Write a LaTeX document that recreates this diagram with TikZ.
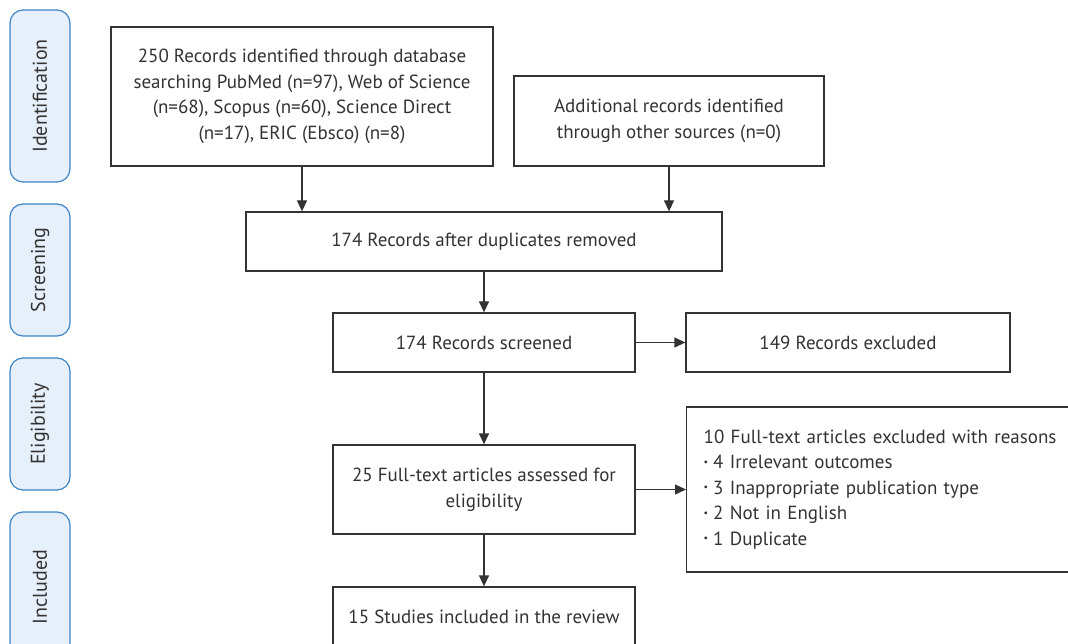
\documentclass[tikz,border=0pt]{standalone}
\usepackage{fontspec}
\setmainfont{PT Sans}
\usetikzlibrary{arrows.meta}
\definecolor{ink}{HTML}{333333}
\definecolor{phasefill}{HTML}{E6F0FA}
\definecolor{phaseedge}{HTML}{3D85C6}
\newcommand{\mybul}{\raisebox{3.5pt}{\fontsize{10}{10}\selectfont\textbullet}\hspace{5pt}}
\tikzset{
  box/.style={draw=ink, line width=1.3pt, fill=white, inner sep=0pt, text=ink,
    font=\fontsize{19}{25.5}\selectfont, align=center},
  phase/.style={draw=phaseedge, fill=phasefill, rounded corners=13pt, line width=1.2pt,
    rotate=90, inner sep=0pt, minimum height=60pt, text=ink,
    font=\fontsize{20}{24}\selectfont},
  arr/.style={draw=ink, line width=1.3pt, -{Triangle[length=11pt,width=10pt]}},
}
\begin{document}
\begin{tikzpicture}[x=1pt,y=-1pt]
\useasboundingbox (0,0) rectangle (1068,644);
\begin{scope}
\clip (0,0) rectangle (1068,644);
% phase labels
\node[phase, minimum width=172pt] (p1) at (40,96) {Identification};
\node[phase, minimum width=132pt] (p2) at (40,270) {Screening};
\node[phase, minimum width=132pt] (p3) at (40,424) {Eligibility};
\node[phase, minimum width=150pt] (p4) at (40,587) {Included};
% boxes
\node[box, minimum width=382pt, minimum height=139pt] (A) at (302,96.5)
  {250 Records identified through database\\searching PubMed (n=97), Web of Science\\(n=68), Scopus (n=60), Science Direct\\(n=17), ERIC (Ebsco) (n=8)};
\node[box, minimum width=310pt, minimum height=90pt] (B) at (669,121)
  {Additional records identified\\through other sources (n=0)};
\node[box, minimum width=476pt, minimum height=59pt] (C) at (484,241.5)
  {174 Records after duplicates removed};
\node[box, minimum width=302pt, minimum height=59pt] (D) at (484,342.5)
  {174 Records screened};
\node[box, minimum width=324pt, minimum height=59pt] (E) at (848,342.5)
  {149 Records excluded};
\node[box, minimum width=302pt, minimum height=89pt] (F) at (484,489.5)
  {25 Full-text articles assessed for\\eligibility};
\node[box, anchor=west, inner xsep=17pt, text width=364pt, align=left, minimum height=165pt] (G) at (686,489.5)
  {10 Full-text articles excluded with reasons\\
   \mybul 4 Irrelevant outcomes\\
   \mybul 3 Inappropriate publication type\\
   \mybul 2 Not in English\\
   \mybul 1 Duplicate};
\node[box, minimum width=302pt, minimum height=60pt] (H) at (484,617)
  {15 Studies included in the review};
% connectors
\draw[arr] (A.south) -- (A.south |- C.north);
\draw[arr] (B.south) -- (B.south |- C.north);
\draw[arr] (C.south) -- (D.north);
\draw[arr] (D.east) -- (E.west);
\draw[arr] (D.south) -- (F.north);
\draw[arr] (F.east) -- (F.east -| G.west);
\draw[arr] (F.south) -- (H.north);
\end{scope}
\end{tikzpicture}
\end{document}
